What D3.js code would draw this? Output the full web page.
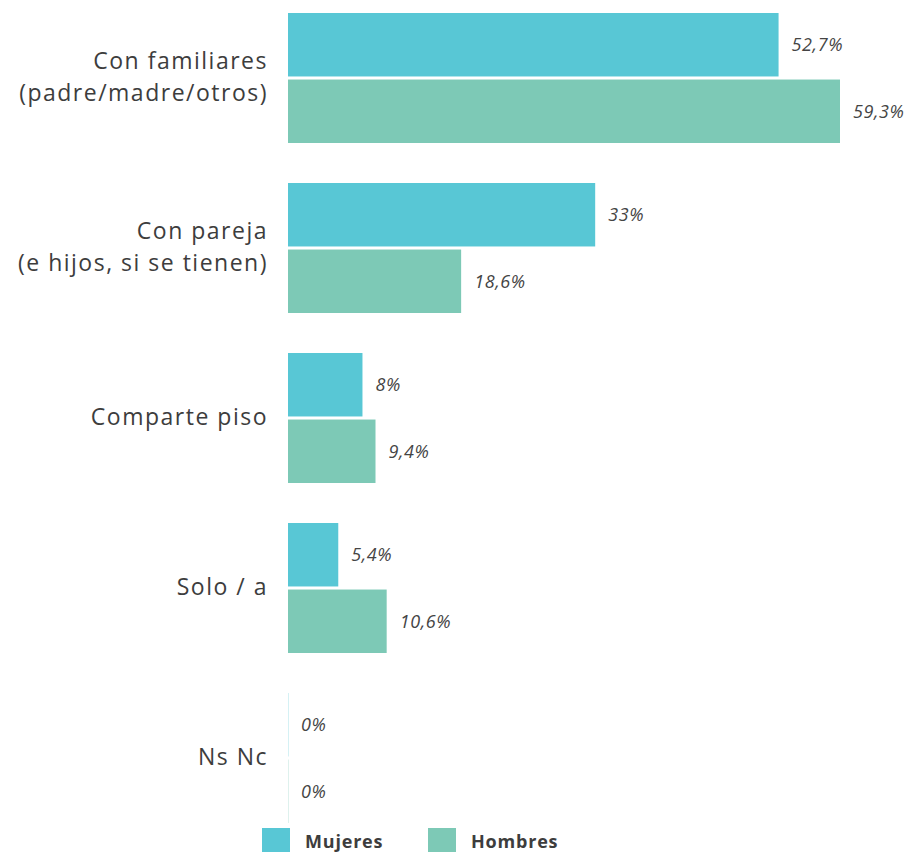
<!DOCTYPE html>
<meta charset="utf-8">
<style>
  body { margin: 0; background: #fff; }
  text { font-family: "Open Sans", Lato, sans-serif; fill: #3d3d3d; }
</style>
<svg width="910" height="852"></svg>

<script src="https://cdn.jsdelivr.net/npm/d3@7"></script>
<script>
var categories = [
  ["Con familiares", "(padre/madre/otros)"],
  ["Con pareja", "(e hijos, si se tienen)"],
  ["Comparte piso"],
  ["Solo / a"],
  ["Ns Nc"]
]
var series = ["Mujeres", "Hombres"]
var mujeres = [52.7, 33, 8, 5.4, 0]
var hombres = [59.3, 18.6, 9.4, 10.6, 0]
var valueLabels = [
  ["52,7%", "59,3%"],
  ["33%", "18,6%"],
  ["8%", "9,4%"],
  ["5,4%", "10,6%"],
  ["0%", "0%"]
]
var colors = ["#58c7d5", "#7dc9b6"]

var svg = d3.select("svg")

var x = d3.scaleLinear().domain([0, 59.3]).range([288, 840])
var y = d3.scaleBand().domain(d3.range(categories.length)).range([13, 863]).paddingInner(0).paddingOuter(0)
var sub = d3.scaleBand().domain(series).range([0, 130]).paddingInner(0.046)

var values = [mujeres, hombres]

var groups = svg.selectAll("g.cat")
  .data(categories)
  .enter().append("g")
    .attr("class", "cat")
    .attr("transform", function (d, i) { return "translate(0," + y(i) + ")" })

groups.each(function (cat, i) {
  var g = d3.select(this)
  series.forEach(function (s, j) {
    var v = values[j][i]
    g.append("rect")
      .attr("x", x(0))
      .attr("y", sub(s))
      .attr("width", Math.max(x(v) - x(0), 1))
      .attr("height", sub.bandwidth())
      .attr("fill", colors[j])
      .attr("fill-opacity", v === 0 ? 0.25 : 1)
    g.append("text")
      .attr("x", x(v) + 13)
      .attr("y", sub(s) + sub.bandwidth() / 2)
      .attr("dy", "0.35em")
      .attr("font-size", 18)
      .attr("font-style", "italic")
      .attr("letter-spacing", "0.6px")
      .style("fill", "#444")
      .text(valueLabels[i][j])
  })

  var lab = g.append("text")
    .attr("x", 268)
    .attr("text-anchor", "end")
    .attr("font-size", 23)
    .attr("letter-spacing", "1.5px")
  var lineH = 32
  var top = 64 - (cat.length - 1) * lineH / 2
  cat.forEach(function (line, k) {
    lab.append("tspan")
      .attr("x", 268)
      .attr("y", top + k * lineH)
      .attr("dy", "0.35em")
      .text(line)
  })
})

// legend
var legend = svg.append("g").attr("class", "legend")
var legX = [262, 428]
series.forEach(function (s, j) {
  legend.append("rect")
    .attr("x", legX[j]).attr("y", 828)
    .attr("width", 28).attr("height", 26)
    .attr("fill", colors[j])
  legend.append("text")
    .attr("x", legX[j] + 43).attr("y", 842)
    .attr("dy", "0.35em")
    .attr("font-size", 18)
    .attr("font-weight", "bold")
    .attr("letter-spacing", "0.8px")
    .text(s)
})
</script>
